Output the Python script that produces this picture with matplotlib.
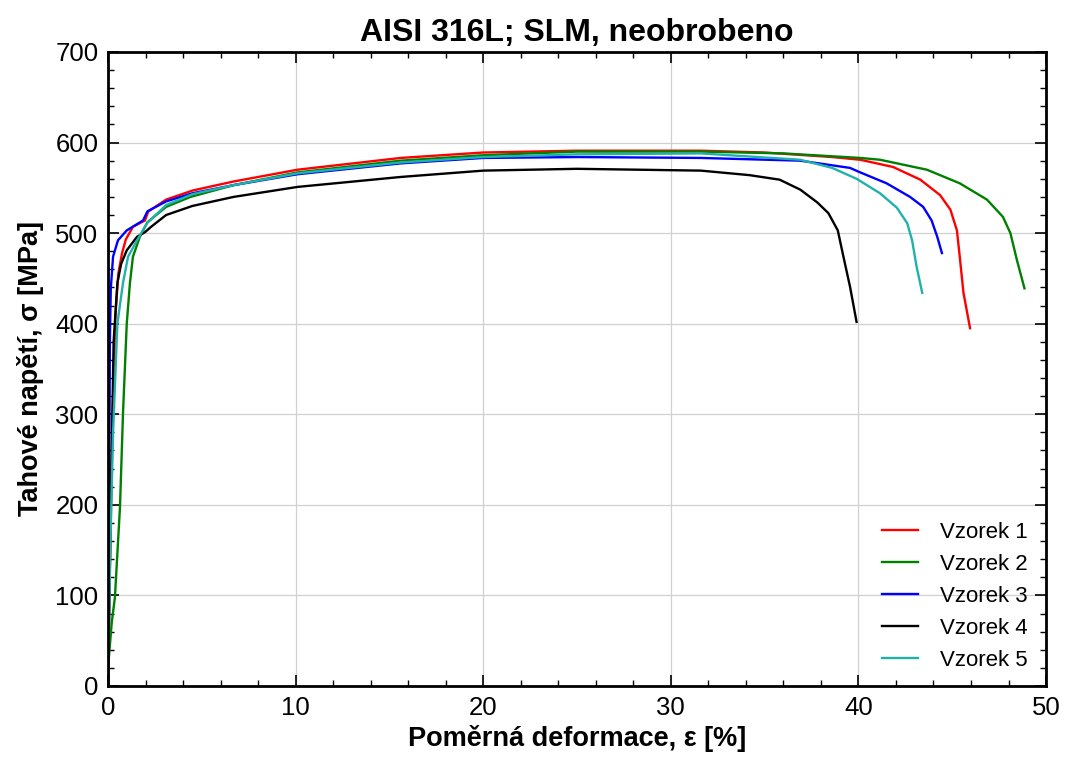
import matplotlib.pyplot as plt
from matplotlib.ticker import MultipleLocator

plt.rcParams['font.family'] = ['Liberation Sans', 'DejaVu Sans']

# Vzorek 1 (red)
x1 = [0.0, 0.12, 0.25, 0.4, 0.55, 0.75, 0.95, 1.33, 1.97, 2.15, 3.1, 4.5, 6.7, 10.1, 15.6, 20.0,
      25.0, 31.6, 35.0, 38.6, 40.1, 41.85, 43.3, 44.35, 44.9, 45.25, 45.4, 45.6, 45.95]
y1 = [0, 150, 300, 410, 455, 478, 493, 507, 514, 524, 537, 547, 557, 570, 583, 589,
      591, 591, 589, 584, 581, 573, 559, 542, 526, 503, 474, 434, 395]

# Vzorek 2 (green)
x2 = [0.05, 0.2, 0.37, 0.64, 0.8, 1.0, 1.17, 1.33, 1.7, 2.1, 3.1, 4.4, 6.7, 10.1, 15.6, 20.0, 25.0,
      31.6, 36.0, 40.1, 41.15, 43.65, 45.4, 46.85, 47.7, 48.1, 48.45, 48.85]
y2 = [32, 70, 98, 198, 301, 400, 445, 474, 496, 512, 529, 540, 553, 567, 580, 586, 590,
      590, 588, 583, 581, 570, 555, 537, 518, 500, 470, 439]

# Vzorek 3 (blue)
x3 = [0.0, 0.06, 0.1, 0.15, 0.27, 0.53, 1.0, 1.87, 2.1, 3.1, 4.5, 6.7, 10.1, 15.6, 20.0, 25.0,
      31.6, 36.9, 39.55, 40.1, 41.5, 42.75, 43.45, 43.9, 44.2, 44.45]
y3 = [0, 200, 380, 439, 474, 492, 503, 514, 524, 535, 544, 553, 565, 577, 583, 584,
      583, 580, 572, 567, 555, 540, 529, 514, 496, 478]

# Vzorek 4 (black)
x4 = [0.0, 0.15, 0.3, 0.5, 0.7, 1.0, 1.55, 1.97, 2.3, 3.1, 4.5, 6.7, 10.1, 15.6, 20.0, 25.0,
      31.6, 34.2, 35.8, 36.9, 37.8, 38.4, 38.9, 39.2, 39.55, 39.9]
y4 = [0, 200, 380, 445, 466, 481, 496, 501, 507, 520, 530, 540, 551, 562, 569, 571,
      569, 564, 559, 548, 534, 522, 503, 474, 441, 402]

# Vzorek 5 (cyan)
x5 = [0.0, 0.12, 0.27, 0.5, 0.8, 1.07, 1.55, 2.08, 3.1, 4.5, 6.7, 10.1, 15.6, 20.0, 25.0, 31.6,
      36.9, 38.6, 39.9, 41.15, 42.05, 42.6, 42.86, 43.1, 43.4]
y5 = [0, 150, 279, 400, 445, 474, 492, 511, 531, 543, 553, 566, 578, 584, 587, 588,
      581, 572, 560, 544, 528, 511, 492, 463, 434]

labels = ['Vzorek 1', 'Vzorek 2', 'Vzorek 3', 'Vzorek 4', 'Vzorek 5']
colors = ['#ff0000', '#008000', '#0000ff', '#000000', '#20b2aa']

fig = plt.figure(figsize=(10.65, 7.61), dpi=100)
ax = fig.add_axes([0.1014, 0.0986, 0.8808, 0.8331])

for xs, ys, lab, c in zip([x1, x2, x3, x4, x5], [y1, y2, y3, y4, y5], labels, colors):
    ax.plot(xs, ys, color=c, lw=1.7, label=lab)

ax.set_xlim(0, 50)
ax.set_ylim(0, 700)
ax.xaxis.set_major_locator(MultipleLocator(10))
ax.xaxis.set_minor_locator(MultipleLocator(2))
ax.yaxis.set_major_locator(MultipleLocator(100))
ax.yaxis.set_minor_locator(MultipleLocator(20))
ax.tick_params(which='both', direction='in', top=True, right=True, labelsize=18.5, pad=7)
ax.tick_params(which='major', length=8, width=1.2)
ax.tick_params(which='minor', length=4, width=1.0)
ax.grid(True, which='major', color='#d0d0d0', lw=0.9)
for s in ax.spines.values():
    s.set_linewidth(2)

ax.set_title('AISI 316L; SLM, neobrobeno', fontsize=23, fontweight='bold', pad=8)
ax.set_xlabel('Poměrná deformace, ε [%]', fontsize=19.5, fontweight='bold', labelpad=4)
ax.set_ylabel('Tahové napětí, σ [MPa]', fontsize=19.5, fontweight='bold', labelpad=8)

ax.legend(loc='lower right', frameon=False, fontsize=16, handlelength=1.62,
          handletextpad=1.0, labelspacing=0.5, bbox_to_anchor=(1.002, -0.008))

fig.savefig('out.png', dpi=100)
